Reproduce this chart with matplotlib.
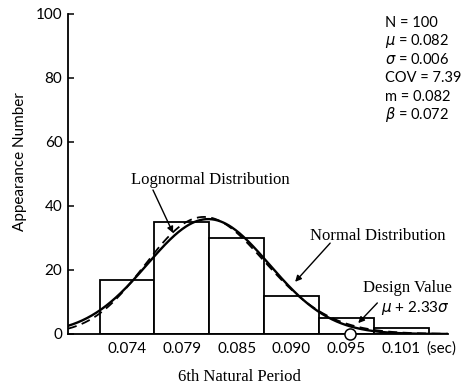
import numpy as np
import matplotlib
matplotlib.use("Agg")
import matplotlib.pyplot as plt

# histogram of the 6th natural period (N = 100 samples)
bin_centers = [0.0740, 0.0794, 0.0848, 0.0902, 0.0956, 0.1010]
bin_labels = ["0.074", "0.079", "0.085", "0.090", "0.095", "0.101"]
counts = [17, 35, 30, 12, 5, 2]
bin_width = 0.0054

n_samples = 100
mu, sigma = 0.082, 0.006          # normal fit
median, beta = 0.082, 0.072       # lognormal fit
design = mu + 2.33 * sigma

stats_lines = ["N = 100",
               r"$\mu$ = 0.082",
               r"$\sigma$ = 0.006",
               "COV = 7.39",
               "m = 0.082",
               r"$\beta$ = 0.072"]

serif = "Liberation Serif"
sans = "Lato"

fig = plt.figure(figsize=(4.64, 3.85), dpi=100)
ax = fig.add_axes([0.1466, 0.1325, 0.819, 0.8312])

ax.bar(bin_centers, counts, width=bin_width, color="white",
       edgecolor="black", linewidth=1.3, zorder=2)

x = np.linspace(0.0682, 0.1056, 400)
scale = n_samples * bin_width
normal = scale / (sigma * np.sqrt(2 * np.pi)) * np.exp(-0.5 * ((x - mu) / sigma) ** 2)
lognormal = scale / (x * beta * np.sqrt(2 * np.pi)) * np.exp(-0.5 * (np.log(x / median) / beta) ** 2)
ax.plot(x, normal, color="black", lw=1.7, zorder=3)
ax.plot(x, lognormal, color="black", lw=1.3, ls=(0, (5, 3)), zorder=3)

ax.plot([design], [0], "o", ms=8, mfc="white", mec="black", mew=1.1,
        zorder=5, clip_on=False)

arrow = dict(arrowstyle="-|>", color="black", lw=1.0, mutation_scale=9,
             shrinkA=0, shrinkB=0)
ax.annotate("", xy=(0.07853, 31.6), xytext=(0.07656, 45), arrowprops=arrow)
ax.annotate("", xy=(0.09055, 16.3), xytext=(0.0940, 28.4), arrowprops=arrow)
ax.annotate("", xy=(0.09676, 3.4), xytext=(0.09864, 9.7), arrowprops=arrow)

ax.text(0.08218, 48.1, "Lognormal Distribution", family=serif, fontsize=12,
        ha="center", va="center")
ax.text(0.09873, 30.6, "Normal Distribution", family=serif, fontsize=12,
        ha="center", va="center")
ax.text(0.10159, 14.4, "Design Value", family=serif, fontsize=12,
        ha="center", va="center")
ax.text(0.10238, 8.1, r"$\mu$ + 2.33$\sigma$", family=sans, fontsize=11,
        ha="center", va="center")

for i, line in enumerate(stats_lines):
    ax.text(0.09942, 97.2 - 5.75 * i, line, family=sans, fontsize=10.5,
            ha="left", va="center")

ax.text(0.10494, -4.4, "(sec)", family=sans, fontsize=11,
        ha="center", va="center", clip_on=False)

ax.set_xlim(0.0682, 0.1056)
ax.set_ylim(0, 100)
ax.set_xticks(bin_centers)
ax.set_xticklabels(bin_labels, family=sans, fontsize=11)
ax.set_yticks([0, 20, 40, 60, 80, 100])
ax.set_yticklabels(["0", "20", "40", "60", "80", "100"], family=sans, fontsize=11)
ax.tick_params(axis="x", length=0, pad=6)
ax.tick_params(axis="y", direction="in", length=4, width=1.1, pad=4)

for side in ("top", "right"):
    ax.spines[side].set_visible(False)
for side in ("left", "bottom"):
    ax.spines[side].set_linewidth(1.3)

ax.set_xlabel("6th Natural Period", family=serif, fontsize=12)
ax.set_ylabel("Appearance Number", family=sans, fontsize=11)
ax.xaxis.set_label_coords(0.45, -0.11)
ax.yaxis.set_label_coords(-0.108, 0.54)

fig.savefig("out.png", dpi=100)
